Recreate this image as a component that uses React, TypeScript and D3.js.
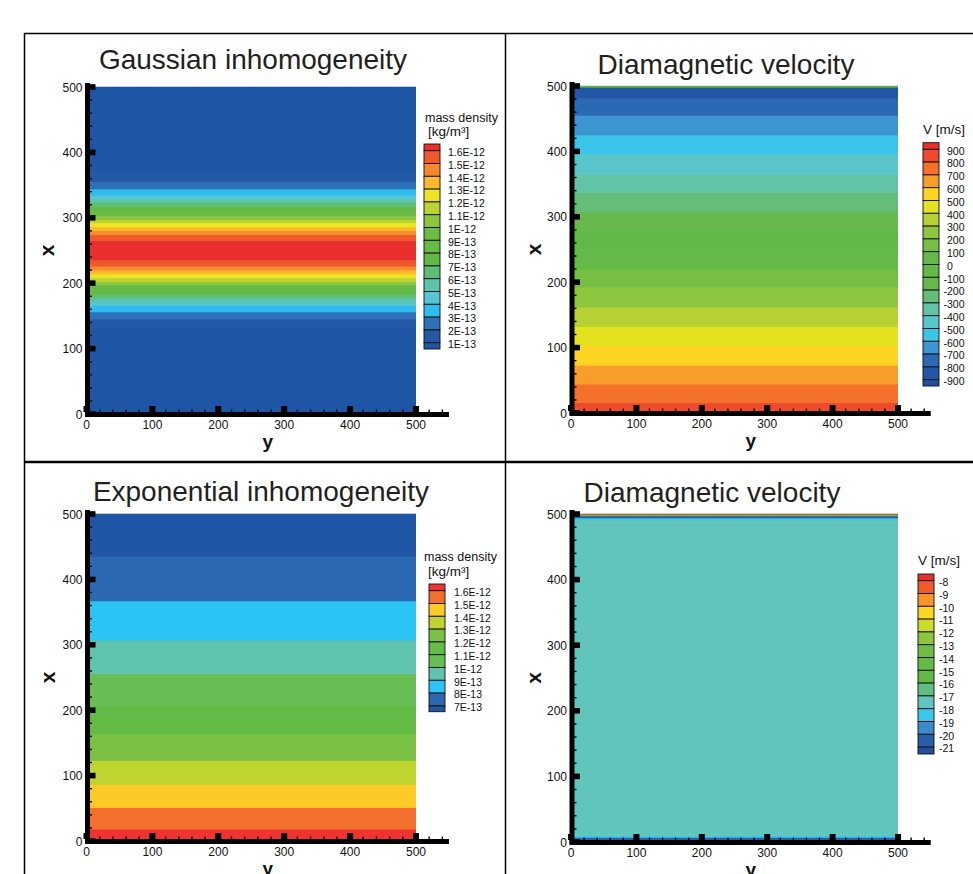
import React from "react";
import * as d3 from "d3";

// ---------- DATA ----------
// Gaussian panel: density band edges along x and level index of each band
const GAUSS_LABELS = ["1.6E-12","1.5E-12","1.4E-12","1.3E-12","1.2E-12","1.1E-12","1E-12","9E-13","8E-13","7E-13","6E-13","5E-13","4E-13","3E-13","2E-13","1E-13"];
const GAUSS_COLORS = ["#1f55a5","#2459a8","#2e71b8","#2cbdee","#55c6d6","#5cc4ab","#5fbe76","#62b946","#66ba46","#6cbc45","#8cc540","#bdd333","#ece525","#fcb92a","#f68a2c","#f05a2a","#ea302d"];
const GAUSS_EDGES = [0,130,145,156,165.6,171,177,183,188,193,198,202,208.5,214,220,226,235.5,265,274,280,286,292.5,297,303,307.5,312,317,324,329,335,344,355,370,500];
const GAUSS_LEVELS = [0,1,2,3,4,5,6,7,8,9,10,11,12,13,14,15,16,15,14,13,12,11,10,9,8,7,6,5,4,3,2,1,0];

// Diamagnetic velocity (Gaussian case)
const V1_LABELS = ["900","800","700","600","500","400","300","200","100","0","-100","-200","-300","-400","-500","-600","-700","-800","-900"];
const V1_COLORS = ["#1f4f9f","#2257a6","#2a6ab4","#3d96d2","#3cc5ea","#5bc5cc","#62c4a6","#64be78","#66b94a","#62b946","#64ba46","#76bf44","#8dc63f","#b5d133","#e2e21f","#fdd422","#f89d2c","#f3712b","#ef4a2a","#e8312d"];
const V1_EDGES = [0,2,16,44,73,103,132,162,192,220,250,279,307,337,365,396,425,455,481,498,500];
const V1_LEVELS = [19,18,17,16,15,14,13,12,11,10,9,8,7,6,5,4,3,2,1,9];

// Exponential panel
const EXP_LABELS = ["1.6E-12","1.5E-12","1.4E-12","1.3E-12","1.2E-12","1.1E-12","1E-12","9E-13","8E-13","7E-13"];
const EXP_COLORS = ["#1f56a6","#2a69b2","#2bc4f4","#5fc3ae","#67be55","#63bb46","#7ac043","#bfd430","#fdca28","#f36f2d","#ee3330"];
const EXP_EDGES = [0,18,51,86,123,163.5,207,256,307,367,435,500];
const EXP_LEVELS = [10,9,8,7,6,5,4,3,2,1,0];

// Diamagnetic velocity (exponential case)
const V2_LABELS = ["-8","-9","-10","-11","-12","-13","-14","-15","-16","-17","-18","-19","-20","-21"];
const V2_COLORS = ["#1f4f9f","#2a5ea9","#3d8acb","#3cc6ec","#62c5bb","#5fbe80","#62b946","#65ba46","#6fbd45","#8cc540","#cadb2b","#fdd623","#f7942c","#f15a2a","#e8312d"];
const V2_EDGES = [0,3,7,10,491,494,497,499.5,500];
const V2_LEVELS = [2,1,3,4,3,1,7,14];

const X_TICKS = [0,100,200,300,400,500];
const Y_TICKS = [0,100,200,300,400,500];

// ---------- LAYOUT ----------
const FONT = "'Liberation Sans', Arial, Helvetica, sans-serif";

type PanelCfg = {
  title: string; titleX: number; titleY: number;
  x0: number; x500: number; y0: number; y500: number; xLabelX: number;
  edges: number[]; levels: number[]; colors: string[]; labels: string[];
  legTitle: string[]; legTitleX: number[]; legTitleY: number[];
  boxX: number; boxTop: number; firstB: number; boxBottom: number; labX: number; signShift: number;
};

const PANELS: PanelCfg[] = [
  { title: "Gaussian inhomogeneity", titleX: 253, titleY: 69, x0: 86.5, x500: 416, y0: 414, y500: 87, xLabelX: 48,
    edges: GAUSS_EDGES, levels: GAUSS_LEVELS, colors: GAUSS_COLORS, labels: GAUSS_LABELS,
    legTitle: ["mass density", "[kg/m³]"], legTitleX: [425, 428], legTitleY: [122, 136],
    boxX: 424, boxTop: 144, firstB: 150.7, boxBottom: 349, labX: 448, signShift: 0 },
  { title: "Diamagnetic velocity", titleX: 726, titleY: 74, x0: 571, x500: 898, y0: 413, y500: 86, xLabelX: 535,
    edges: V1_EDGES, levels: V1_LEVELS, colors: V1_COLORS, labels: V1_LABELS,
    legTitle: ["V [m/s]"], legTitleX: [923], legTitleY: [134],
    boxX: 923, boxTop: 142.7, firstB: 149.3, boxBottom: 386, labX: 943.5, signShift: 3.5 },
  { title: "Exponential inhomogeneity", titleX: 261, titleY: 501, x0: 86.5, x500: 416, y0: 841, y500: 514, xLabelX: 49,
    edges: EXP_EDGES, levels: EXP_LEVELS, colors: EXP_COLORS, labels: EXP_LABELS,
    legTitle: ["mass density", "[kg/m³]"], legTitleX: [424, 428], legTitleY: [561, 576],
    boxX: 429, boxTop: 584, firstB: 590.7, boxBottom: 711.7, labX: 454, signShift: 0 },
  { title: "Diamagnetic velocity", titleX: 712, titleY: 502, x0: 571, x500: 898, y0: 842, y500: 514, xLabelX: 535,
    edges: V2_EDGES, levels: V2_LEVELS, colors: V2_COLORS, labels: V2_LABELS,
    legTitle: ["V [m/s]"], legTitleX: [918], legTitleY: [565],
    boxX: 918, boxTop: 574, firstB: 580.7, boxBottom: 754, labX: 939, signShift: 0 },
];

function Panel({ p }: { p: PanelCfg }) {
  const xs = d3.scaleLinear().domain([0, 500]).range([p.x0, p.x500]);
  const ys = d3.scaleLinear().domain([0, 500]).range([p.y0, p.y500]);
  const minorX = d3.range(0, 551, 20).filter((v) => v % 100 !== 0);
  const minorY = d3.range(0, 501, 20).filter((v) => v % 100 !== 0);
  const nL = p.labels.length;
  const ls = d3.scaleLinear().domain([0, nL - 1]).range([p.firstB, p.firstB + (nL - 1) * 12.8]);
  const boxes: { y0: number; y1: number; c: string }[] = [];
  const nC = p.colors.length;
  boxes.push({ y0: p.boxTop, y1: ls(0), c: p.colors[nC - 1] });
  for (let k = 0; k < nL - 1; k++) boxes.push({ y0: ls(k), y1: ls(k + 1), c: p.colors[nC - 2 - k] });
  boxes.push({ y0: ls(nL - 1), y1: p.boxBottom, c: p.colors[0] });
  const midY = (ys(0) + ys(500)) / 2;
  return (
    <g>
      <text x={p.titleX} y={p.titleY} textAnchor="middle" fontSize={28} fill="#231f20" fontFamily={FONT}>{p.title}</text>
      {p.levels.map((lv, i) => (
        <rect key={i} x={xs(0)} width={xs(500) - xs(0)}
          y={ys(p.edges[i + 1]) - 0.3} height={ys(p.edges[i]) - ys(p.edges[i + 1]) + 0.6}
          fill={p.colors[lv]} />
      ))}
      {/* y axis */}
      <rect x={xs(0) - 1.5} y={ys(500) - 4} width={5} height={ys(0) - ys(500) + 6} fill="#000" />
      {Y_TICKS.map((t) => (
        <g key={"yt" + t}>
          <rect x={xs(0) + 3} y={ys(t) - 2.8} width={6} height={5.6} fill="#000" />
          <text x={xs(0) - 4} y={ys(t) + 4.5} textAnchor="end" fontSize={12} fontFamily={FONT} fill="#111">{t}</text>
        </g>
      ))}
      {minorY.map((t) => (
        <rect key={"ym" + t} x={xs(0) + 3} y={ys(t) - 0.7} width={2.5} height={1.4} fill="#000" />
      ))}
      {/* x axis */}
      <rect x={xs(0) - 1.5} y={ys(0) - 2} width={xs(550) - xs(0) + 1.5} height={5} fill="#000" />
      {X_TICKS.map((t) => (
        <g key={"xt" + t}>
          <rect x={xs(t) - 3} y={ys(0) - 8} width={6} height={6} fill="#000" />
          <text x={xs(t)} y={ys(0) + 15} textAnchor="middle" fontSize={12} fontFamily={FONT} fill="#111">{t}</text>
        </g>
      ))}
      {minorX.map((t) => (
        <rect key={"xm" + t} x={xs(t) - 0.7} y={ys(0) - 4.5} width={1.4} height={2.5} fill="#000" />
      ))}
      <text x={(xs(0) + xs(550)) / 2} y={ys(0) + 34} textAnchor="middle" fontSize={19} fontWeight="bold" fontFamily={FONT} fill="#111">y</text>
      <text transform={`translate(${p.xLabelX + 6},${midY}) rotate(-90)`} textAnchor="middle" fontSize={21} fontWeight="bold" fontFamily={FONT} fill="#111">x</text>
      {/* legend */}
      {p.legTitle.map((t, i) => (
        <text key={"lt" + i} x={p.legTitleX[i]} y={p.legTitleY[i]} fontSize={i === 0 && p.legTitle.length > 1 ? 12.5 : 13.5} fontFamily={FONT} fill="#111">{t}</text>
      ))}
      {boxes.map((b, i) => (
        <rect key={"lb" + i} x={p.boxX} y={b.y0} width={16} height={b.y1 - b.y0} fill={b.c} stroke="#111" strokeWidth={0.9} />
      ))}
      {p.labels.map((l, k) => (
        <text key={"ll" + k} x={p.labX + (l.startsWith("-") ? 0 : p.signShift)} y={ls(k) + 5.2} fontSize={10.5} fontFamily={FONT} fill="#111">{l}</text>
      ))}
    </g>
  );
}

export default function App() {
  return (
    <svg width={973} height={874} style={{ position: "absolute", left: 0, top: 0, background: "#fff" }}>
      <rect x={0} y={0} width={973} height={874} fill="#fff" />
      {PANELS.map((p, i) => <Panel key={i} p={p} />)}
      {/* frames */}
      <line x1={24} y1={33.5} x2={973} y2={33.5} stroke="#000" strokeWidth={1.5} />
      <line x1={24.5} y1={33} x2={24.5} y2={874} stroke="#000" strokeWidth={1.5} />
      <line x1={505.5} y1={33} x2={505.5} y2={874} stroke="#000" strokeWidth={1.5} />
      <line x1={24} y1={462} x2={973} y2={462} stroke="#000" strokeWidth={2.5} />
    </svg>
  );
}
